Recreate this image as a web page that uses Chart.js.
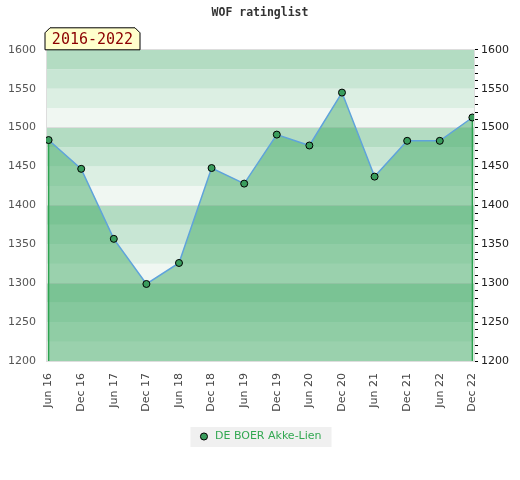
<!DOCTYPE html>
<html>
<head>
<meta charset="utf-8">
<title>WOF ratinglist</title>
<script src="https://cdn.jsdelivr.net/npm/chart.js@4"></script>
<style>
  body { margin: 0; background: #fff; }
  #wrap { width: 520px; height: 480px; }
</style>
</head>
<body>
<div id="wrap"><canvas id="ratingChart" width="520" height="480"></canvas></div>
<script>
const categories = ['Jun 16', 'Dec 16', 'Jun 17', 'Dec 17', 'Jun 18', 'Dec 18', 'Jun 19',
  'Dec 19', 'Jun 20', 'Dec 20', 'Jun 21', 'Dec 21', 'Jun 22', 'Dec 22'];
const ratings = [1484, 1447, 1357, 1299, 1326, 1448, 1428, 1491, 1477, 1545, 1437, 1483, 1483, 1513];
const playerName = 'DE BOER Akke-Lien';
const periodLabel = '2016-2022';
const chartTitle = 'WOF ratinglist';
const yMin = 1200;
const yMax = 1600;
const yStep = 50;
const bandStep = 25;
const bandColors = ['#f0f7f2', '#dcefe3', '#c8e6d4', '#b3dcc2']; // bottom to top inside each 100

Chart.defaults.font.family = 'DejaVu Sans';

// striped background behind the plot, plus the grey legend panel
const backdrop = {
  id: 'backdrop',
  beforeDraw(chart) {
    const { ctx, chartArea: a, scales } = chart;
    const y = scales.y;
    ctx.save();
    for (let v = yMin; v < yMax; v += bandStep) {
      const top = y.getPixelForValue(v + bandStep);
      const bottom = y.getPixelForValue(v);
      ctx.fillStyle = bandColors[((v - yMin) / bandStep) % 4];
      ctx.fillRect(a.left, top, a.right - a.left, bottom - top);
    }
    const boxes = chart.legend && chart.legend.legendHitBoxes;
    if (boxes && boxes.length) {
      const b = boxes[0];
      ctx.fillStyle = '#f0f0f0';
      ctx.fillRect(b.left - 8, b.top - 4, b.width + 18, b.height + 9);
    }
    ctx.restore();
  }
};

// green verticals from the first and last point down to the base
const edgeLines = {
  id: 'edgeLines',
  beforeDatasetsDraw(chart) {
    const pts = chart.getDatasetMeta(0).data;
    if (!pts.length) return;
    const { ctx, chartArea: a } = chart;
    ctx.save();
    ctx.strokeStyle = '#2ea44f';
    ctx.lineWidth = 1.5;
    [pts[0], pts[pts.length - 1]].forEach(p => {
      ctx.beginPath();
      ctx.moveTo(p.x, p.y);
      ctx.lineTo(p.x, a.bottom);
      ctx.stroke();
    });
    ctx.restore();
  }
};

// period tag sitting on top of the plot, top corners cut off
const periodTag = {
  id: 'periodTag',
  afterDraw(chart) {
    const { ctx, chartArea: a } = chart;
    const l = a.left - 1, r = l + 95, b = a.top, t = b - 22, c = 5;
    ctx.save();
    ctx.beginPath();
    ctx.moveTo(l, b);
    ctx.lineTo(l, t + c);
    ctx.lineTo(l + c, t);
    ctx.lineTo(r - c, t);
    ctx.lineTo(r, t + c);
    ctx.lineTo(r, b);
    ctx.closePath();
    ctx.fillStyle = '#ffffcc';
    ctx.fill();
    ctx.strokeStyle = '#000';
    ctx.lineWidth = 1;
    ctx.stroke();
    ctx.fillStyle = '#8b0000';
    ctx.font = '15px "DejaVu Sans Mono"';
    ctx.textAlign = 'center';
    ctx.textBaseline = 'middle';
    ctx.fillText(periodLabel, (l + r) / 2, (t + b) / 2 + 1);
    ctx.restore();
  }
};

new Chart(document.getElementById('ratingChart'), {
  type: 'line',
  data: {
    datasets: [{
      label: playerName,
      data: ratings.map((v, i) => ({ x: i, y: v })),
      borderColor: '#5fa3db',
      borderWidth: 1.5,
      backgroundColor: 'rgba(61, 168, 99, 0.48)',
      fill: 'start',
      tension: 0,
      pointRadius: 3.5,
      pointHoverRadius: 3.5,
      pointBackgroundColor: '#3a9d5d',
      pointBorderColor: '#000',
      pointBorderWidth: 1
    }]
  },
  options: {
    responsive: false,
    animation: false,
    layout: { padding: { left: 0, right: 0, top: 0, bottom: 28 } },
    plugins: {
      title: {
        display: true,
        text: chartTitle,
        color: '#333',
        font: { family: 'DejaVu Sans Mono', size: 11.5, weight: 'bold' },
        padding: { top: 6, bottom: 30 }
      },
      legend: {
        position: 'bottom',
        labels: {
          usePointStyle: true,
          pointStyle: 'circle',
          boxWidth: 14,
          boxHeight: 5,
          padding: 10,
          color: '#33a852',
          font: { size: 11 },
          generateLabels(chart) {
            return Chart.defaults.plugins.legend.labels.generateLabels(chart).map(item => ({
              ...item, fillStyle: '#3a9d5d', strokeStyle: '#000', lineWidth: 1
            }));
          }
        }
      },
      tooltip: { enabled: false }
    },
    scales: {
      x: {
        type: 'linear',
        min: -0.08,
        max: 13.05,
        afterBuildTicks(scale) {
          scale.ticks = categories.map((_, i) => ({ value: i }));
        },
        afterFit(scale) { scale.height = 60; },
        border: { color: '#ddd' },
        grid: { color: 'transparent', drawOnChartArea: false, tickLength: 8 },
        ticks: {
          autoSkip: false,
          maxRotation: 90,
          minRotation: 90,
          padding: 4,
          color: '#444',
          font: { size: 11 },
          callback: v => categories[v] ?? ''
        }
      },
      y: {
        position: 'left',
        min: yMin,
        max: yMax,
        afterFit(scale) { scale.width = 46; },
        border: { color: '#ddd' },
        grid: {
          drawTicks: false,
          color: ctx => (ctx.tick && ctx.tick.value % 100 === 0) ? '#dddddd' : 'transparent'
        },
        ticks: { stepSize: yStep, padding: 10, color: '#555', font: { size: 11 }, callback: v => String(v) }
      },
      y2: {
        position: 'right',
        min: yMin,
        max: yMax,
        afterFit(scale) { scale.width = 46; },
        border: { color: '#ddd' },
        grid: { drawOnChartArea: false, tickLength: 4, tickColor: '#000', tickWidth: 1 },
        ticks: {
          stepSize: 10,
          autoSkip: false,
          padding: 3,
          color: '#222',
          font: { size: 11 },
          callback: v => (v % yStep === 0 ? String(v) : '')
        }
      }
    }
  },
  plugins: [backdrop, edgeLines, periodTag]
});
</script>
</body>
</html>
